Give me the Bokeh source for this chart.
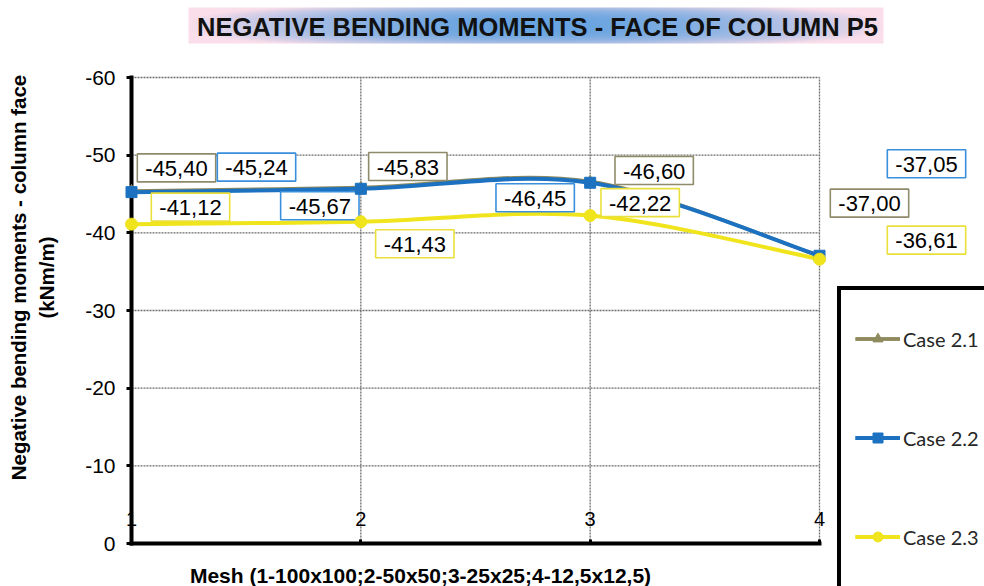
import math
import numpy as np
from bokeh.plotting import figure
from bokeh.models import (Range1d, FixedTicker, Label, Legend, LegendItem,
                          ColumnDataSource)
from bokeh.layouts import column
from bokeh.embed import file_html
from bokeh.resources import INLINE

# ---------------- data ----------------
title_text = "NEGATIVE BENDING MOMENTS - FACE OF COLUMN P5"
x_label = "Mesh (1-100x100;2-50x50;3-25x25;4-12,5x12,5)"
y_label = "Negative bending moments - column face\n(kNm/m)"

mesh = [1, 2, 3, 4]
case_21 = [-45.40, -45.83, -46.60, -37.00]
case_22 = [-45.24, -45.67, -46.45, -37.05]
case_23 = [-41.12, -41.43, -42.22, -36.61]
series_names = ["Case 2.1", "Case 2.2", "Case 2.3"]
series_values = [case_21, case_22, case_23]

y_ticks = [-60, -50, -40, -30, -20, -10, 0]
x_ticks = [1, 2, 3, 4]

# ---------------- styles / layout ----------------
colors = ["#8e8a5e", "#1c72c0", "#f0e41c"]
border_colors = ["#8f8b6a", "#3a8fdc", "#e9e03c"]
markers = ["triangle", "square", "circle"]
marker_sizes = [11, 11, 12]
line_widths = [3.5, 4, 4]
# label box offsets (pixels) relative to their point
label_dx = [[45, 47, 64, 50], [125, -41, -55, 107], [59, 54, 50, 107]]
label_dy = [[23, 21, 11, 53], [25, -17, -15, 92], [17, -22, 13, 19]]

FONT = "Liberation Sans"
PAGE_W = 984
TITLE_H = 54
MAIN_H = 532
# pixel positions of the plotting area inside the main canvas
AX_LEFT, AX_RIGHT = 131, 819      # x = 1 .. 4
AX_TOP, AX_BOTTOM = 23, 489       # y = -60 .. 0


def fmt(v):
    return f"{v:.2f}".replace(".", ",")


def smooth_segments(xs, ys):
    """Cubic Bezier control points for a smoothed line through the points."""
    n = len(xs)
    d = dict(x0=[], y0=[], x1=[], y1=[], cx0=[], cy0=[], cx1=[], cy1=[])
    for i in range(n - 1):
        xp, yp = (xs[i - 1], ys[i - 1]) if i > 0 else (xs[i], ys[i])
        xn, yn = (xs[i + 2], ys[i + 2]) if i + 2 < n else (xs[i + 1], ys[i + 1])
        d["x0"].append(xs[i]); d["y0"].append(ys[i])
        d["x1"].append(xs[i + 1]); d["y1"].append(ys[i + 1])
        d["cx0"].append(xs[i] + (xs[i + 1] - xp) / 6)
        d["cy0"].append(ys[i] + (ys[i + 1] - yp) / 6)
        d["cx1"].append(xs[i + 1] - (xn - xs[i]) / 6)
        d["cy1"].append(ys[i + 1] - (yn - ys[i]) / 6)
    return d


# ---------------- title strip ----------------
tp = figure(width=PAGE_W, height=TITLE_H, x_range=Range1d(0, PAGE_W),
            y_range=Range1d(0, TITLE_H), x_axis_type=None, y_axis_type=None,
            toolbar_location=None, output_backend="svg", min_border=0)
tp.outline_line_color = None
tp.background_fill_color = "white"
tp.border_fill_color = "white"

GW, GH = 695, 36
gx = np.linspace(-1, 1, GW)
gy = np.linspace(-1, 1, GH)
GX, GY = np.meshgrid(gx, gy)
wgt = np.clip(np.abs(GX) ** 2.0 + 0.45 * np.abs(GY) ** 3, 0, 1)
blue = np.array([104, 164, 224])
pink = np.array([250, 222, 234])
rgb = blue * (1 - wgt)[..., None] + pink * wgt[..., None]
img = np.empty((GH, GW), dtype=np.uint32)
view = img.view(dtype=np.uint8).reshape((GH, GW, 4))
view[..., :3] = rgb.astype(np.uint8)
view[..., 3] = 255
tp.image_rgba(image=[img], x=188, y=11, dw=GW, dh=GH)
tp.add_layout(Label(x=537, y=28, text=title_text, text_align="center",
                    text_baseline="middle", text_font=FONT, text_font_size="25.5px",
                    text_font_style="bold", text_color="#111111"))

# ---------------- main chart ----------------
px_x = (AX_RIGHT - AX_LEFT) / (x_ticks[-1] - x_ticks[0])
px_y = (AX_BOTTOM - AX_TOP) / (y_ticks[-1] - y_ticks[0])
x_range = Range1d(x_ticks[0] - AX_LEFT / px_x, x_ticks[-1] + (PAGE_W - AX_RIGHT) / px_x)
y_range = Range1d(y_ticks[-1] + (MAIN_H - AX_BOTTOM) / px_y, y_ticks[0] - AX_TOP / px_y)

p = figure(width=PAGE_W, height=MAIN_H, x_range=x_range, y_range=y_range,
           output_backend="svg", toolbar_location=None, min_border=0)
p.outline_line_color = None
p.background_fill_color = "white"
p.border_fill_color = "white"
p.xgrid.visible = False
p.ygrid.visible = False

# dotted grid lines limited to the plotting area
GRID_KW = dict(line_color="#6e6e6e", line_width=1.3, line_dash="2 1")
p.segment(x0=x_ticks, x1=x_ticks, y0=[y_ticks[-1]] * len(x_ticks),
          y1=[y_ticks[0]] * len(x_ticks), **GRID_KW)
p.segment(x0=[x_ticks[0]] * len(y_ticks), x1=[x_ticks[-1]] * len(y_ticks),
          y0=y_ticks, y1=y_ticks, **GRID_KW)

# axes fixed at the plotting area edges
p.yaxis.fixed_location = x_ticks[0]
p.xaxis.fixed_location = y_ticks[-1]
p.yaxis.bounds = (y_ticks[0], y_ticks[-1])
p.xaxis.bounds = (x_ticks[0], x_ticks[-1])
p.yaxis.ticker = FixedTicker(ticks=y_ticks)
p.yaxis.major_label_overrides = {t: str(t) for t in y_ticks}
p.xaxis.ticker = FixedTicker(ticks=x_ticks)
p.xaxis.major_label_overrides = {t: str(t) for t in x_ticks}
for ax in (p.xaxis[0], p.yaxis[0]):
    ax.axis_line_color = "black"
    ax.axis_line_width = 4
    ax.axis_line_cap = "square"
    ax.major_tick_line_color = "black"
    ax.major_tick_line_width = 3
    ax.minor_tick_line_color = None
    ax.major_label_text_font = FONT
    ax.major_label_text_color = "black"
p.yaxis.major_tick_out = 5
p.yaxis.major_tick_in = 0
p.yaxis.major_label_standoff = 11
p.yaxis.major_label_text_font_size = "21px"
p.xaxis.major_tick_out = 0
p.xaxis.major_tick_in = 4
p.xaxis.major_label_standoff = -32
p.xaxis.major_label_text_font_size = "20px"

# series
items = []
for s, (name, ys) in enumerate(zip(series_names, series_values)):
    src = ColumnDataSource(smooth_segments(mesh, ys))
    bez = p.bezier(x0="x0", y0="y0", x1="x1", y1="y1", cx0="cx0", cy0="cy0",
                   cx1="cx1", cy1="cy1", source=src, line_color=colors[s],
                   line_width=line_widths[s])
    sc = p.scatter(x=mesh, y=ys, marker=markers[s], size=marker_sizes[s],
                   fill_color=colors[s], line_color=colors[s], level="overlay")
    # one-point line: invisible in the plot, provides the legend's line swatch
    leg_line = p.line(x=mesh[:1], y=ys[:1], line_color=colors[s],
                      line_width=line_widths[s])
    items.append(LegendItem(label=name, renderers=[leg_line, bez, sc]))

# invisible spacer entry so the legend box runs off the bottom edge
spacer = p.line(x=mesh[:1], y=case_21[:1], line_alpha=0)
items.append(LegendItem(label=" ", renderers=[spacer]))

# value labels
for s, ys in enumerate(series_values):
    for i, (xv, yv) in enumerate(zip(mesh, ys)):
        p.add_layout(Label(x=xv, y=yv, x_offset=label_dx[s][i], y_offset=label_dy[s][i],
                           text=fmt(yv), text_align="center", text_baseline="middle",
                           text_font=FONT, text_font_size="22px", text_color="black",
                           background_fill_color="white", background_fill_alpha=1,
                           border_line_color=border_colors[s], border_line_width=1.6,
                           padding=dict(top=7, right=8, bottom=6, left=8)))

# axis titles
p.add_layout(Label(x=x_ticks[0], y=(y_ticks[0] + y_ticks[-1]) / 2, x_offset=-99, y_offset=33,
                   text=y_label, angle=math.pi / 2, text_align="center",
                   text_baseline="middle", text_font=FONT, text_font_size="20.5px",
                   text_font_style="bold", text_color="black"))
p.add_layout(Label(x=x_ticks[0], y=y_ticks[-1], x_offset=289, y_offset=-32,
                   text=x_label, text_align="center", text_baseline="middle",
                   text_font=FONT, text_font_size="21px", text_font_style="bold",
                   text_color="black"))

legend = Legend(items=items, location=(837, -80), orientation="vertical",
                border_line_color="black", border_line_width=4, border_line_alpha=1,
                background_fill_color="white", background_fill_alpha=1,
                padding=14, spacing=74, glyph_width=45, glyph_height=25,
                label_height=25, label_width=100, label_standoff=3, margin=0,
                label_text_font="Lato", label_text_font_size="20px",
                label_text_color="#262626",
                title=" ", title_text_font_size="14px", title_standoff=6)
p.add_layout(legend, "center")

layout = column(tp, p)
open("out.html", "w").write(file_html(layout, INLINE))
